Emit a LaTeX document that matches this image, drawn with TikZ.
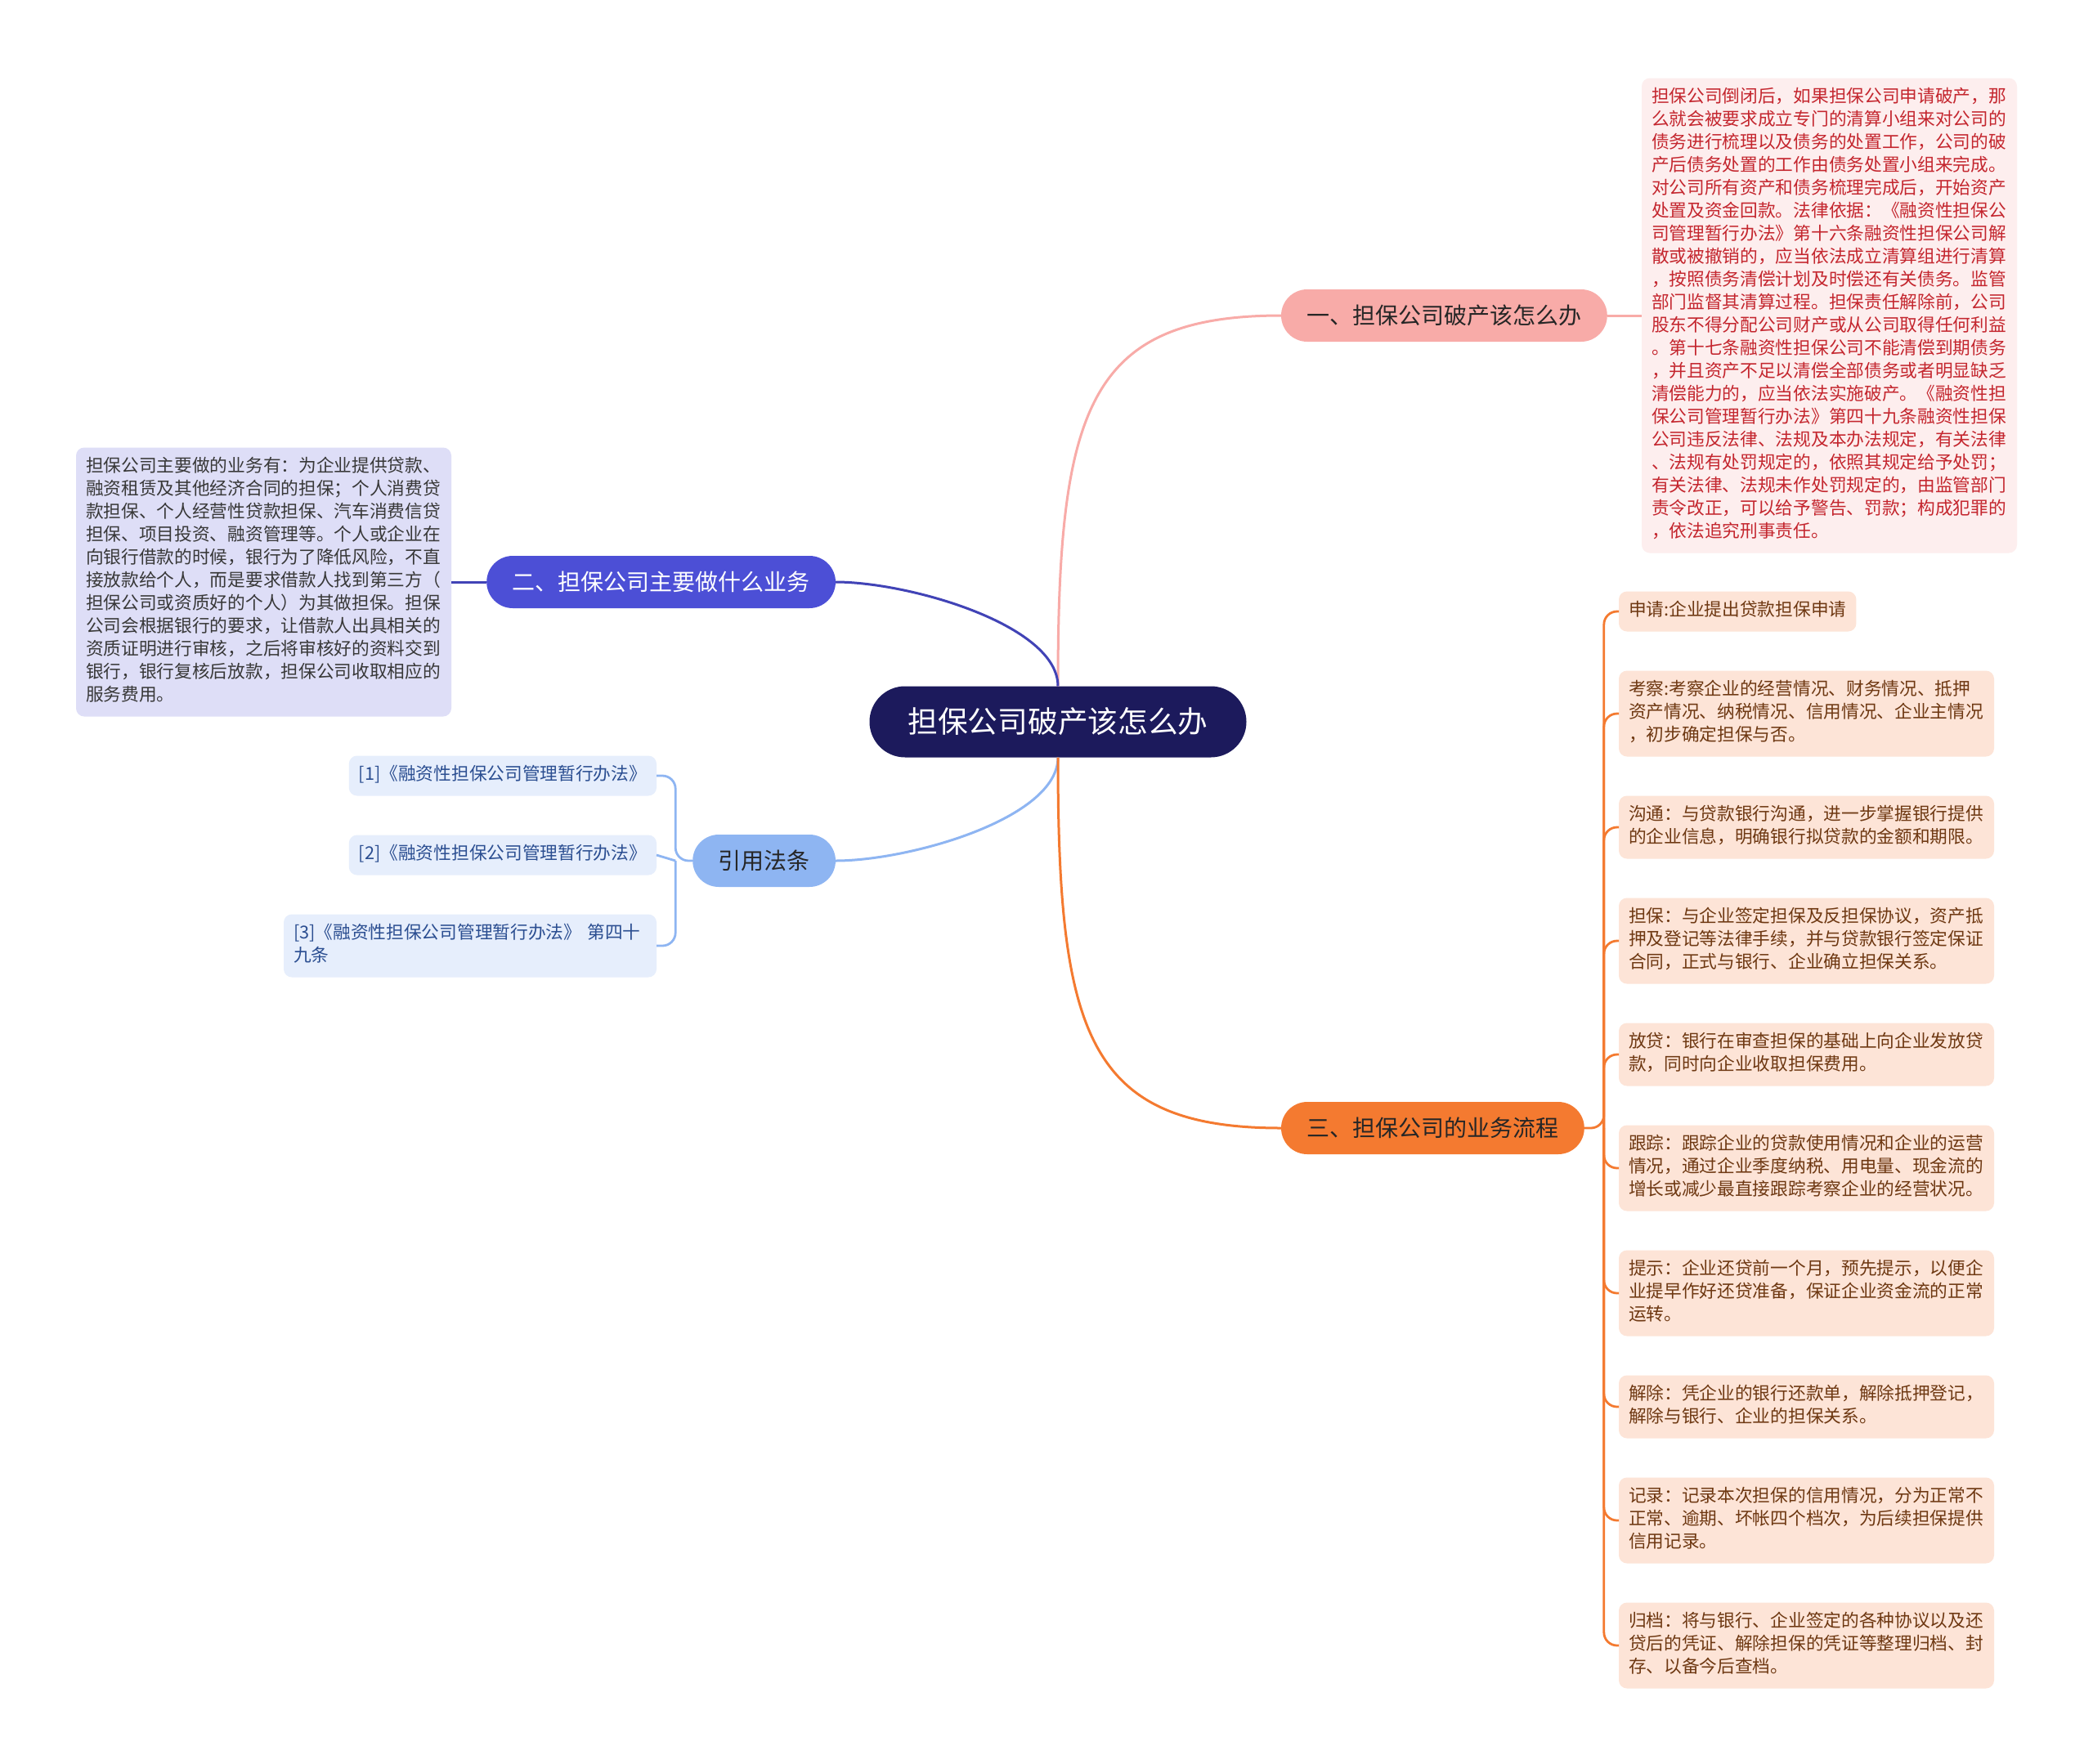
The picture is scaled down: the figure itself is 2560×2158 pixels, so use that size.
\documentclass[tikz,border=0pt]{standalone}
\usepackage{fontspec}
\setmainfont{Noto Sans CJK SC}
\usepackage{xcolor}
\usetikzlibrary{positioning}

\definecolor{rootbg}{RGB}{28,26,92}
\definecolor{pinkbg}{RGB}{248,171,168}
\definecolor{violetbg}{RGB}{76,79,214}
\definecolor{skybg}{RGB}{142,181,242}
\definecolor{orangebg}{RGB}{244,122,48}
\definecolor{redleaf}{RGB}{253,238,238}
\definecolor{redtext}{RGB}{196,38,46}
\definecolor{violetleaf}{RGB}{222,222,247}
\definecolor{skyleaf}{RGB}{230,238,252}
\definecolor{skytext}{RGB}{43,78,145}
\definecolor{orangeleaf}{RGB}{253,228,215}
\definecolor{orangetext}{RGB}{110,56,18}

\begin{document}
\begin{tikzpicture}[
  x=0.5pt, y=-0.5pt,
  every node/.style={inner sep=0pt, outer sep=0pt},
  root/.style={fill=rootbg, text=white, rounded corners=21.75pt, minimum height=43.5pt, inner xsep=23.5pt, font=\fontsize{18.35}{22}\selectfont},
  topic/.style={rounded corners=16pt, minimum height=32pt, inner xsep=15.7pt, font=\fontsize{14}{17}\selectfont},
  leaf/.style={rounded corners=5pt, inner xsep=6pt, inner ysep=5.25pt, align=left, font=\fontsize{10.85}{14}\selectfont, execute at begin node=\strut, execute at end node=\strut},
  wide/.style={text width=217.5pt},
  link/.style={line width=1.5pt},
  twig/.style={line width=1.4pt, rounded corners=8pt},
]
\fill[white] (0,0) rectangle (2560,2158);
\useasboundingbox (0,0) rectangle (2560,2158);

\node[root] (c) at (1294,883) {担保公司破产该怎么办};

\node[topic, fill=pinkbg, text=black!85, anchor=west] (b1) at (1567,386) {一、担保公司破产该怎么办};
\node[topic, fill=violetbg, text=white, anchor=east] (b2) at (1022,712) {二、担保公司主要做什么业务};
\node[topic, fill=skybg, text=black!85, anchor=east] (b3) at (1022,1053) {引用法条};
\node[topic, fill=orangebg, text=black!85, anchor=west] (b4) at (1567,1380) {三、担保公司的业务流程};

% 一
\node[leaf, wide, fill=redleaf, text=redtext, anchor=west] (r1) at (2008,386) {担保公司倒闭后，如果担保公司申请破产，那\\
么就会被要求成立专门的清算小组来对公司的\\
债务进行梳理以及债务的处置工作，公司的破\\
产后债务处置的工作由债务处置小组来完成。\\
对公司所有资产和债务梳理完成后，开始资产\\
处置及资金回款。法律依据：《融资性担保公\\
司管理暂行办法》第十六条融资性担保公司解\\
散或被撤销的，应当依法成立清算组进行清算\\
，按照债务清偿计划及时偿还有关债务。监管\\
部门监督其清算过程。担保责任解除前，公司\\
股东不得分配公司财产或从公司取得任何利益\\
。第十七条融资性担保公司不能清偿到期债务\\
，并且资产不足以清偿全部债务或者明显缺乏\\
清偿能力的，应当依法实施破产。《融资性担\\
保公司管理暂行办法》第四十九条融资性担保\\
公司违反法律、法规及本办法规定，有关法律\\
、法规有处罚规定的，依照其规定给予处罚；\\
有关法律、法规未作处罚规定的，由监管部门\\
责令改正，可以给予警告、罚款；构成犯罪的\\
，依法追究刑事责任。};

% 二
\node[leaf, wide, fill=violetleaf, text=black!78, anchor=east] (p1) at (552,712) {担保公司主要做的业务有：为企业提供贷款、\\
融资租赁及其他经济合同的担保；个人消费贷\\
款担保、个人经营性贷款担保、汽车消费信贷\\
担保、项目投资、融资管理等。个人或企业在\\
向银行借款的时候，银行为了降低风险，不直\\
接放款给个人，而是要求借款人找到第三方（\\
担保公司或资质好的个人）为其做担保。担保\\
公司会根据银行的要求，让借款人出具相关的\\
资质证明进行审核，之后将审核好的资料交到\\
银行，银行复核后放款，担保公司收取相应的\\
服务费用。};

% 引用法条
\node[leaf, fill=skyleaf, text=skytext, anchor=east] (q1) at (803,949) {[1]《融资性担保公司管理暂行办法》};
\node[leaf, fill=skyleaf, text=skytext, below=24pt of q1.south east, anchor=north east] (q2) {[2]《融资性担保公司管理暂行办法》};
\node[leaf, fill=skyleaf, text=skytext, text width=216pt, below=24pt of q2.south east, anchor=north east] (q3) {[3]《融资性担保公司管理暂行办法》 第四十\\九条};

% 三
\node[leaf, fill=orangeleaf, text=orangetext, anchor=west] (k1) at (1980,748) {申请:企业提出贷款担保申请};
\node[leaf, wide, fill=orangeleaf, text=orangetext, below=24pt of k1.south west, anchor=north west] (k2) {考察:考察企业的经营情况、财务情况、抵押\\资产情况、纳税情况、信用情况、企业主情况\\，初步确定担保与否。};
\node[leaf, wide, fill=orangeleaf, text=orangetext, below=24pt of k2.south west, anchor=north west] (k3) {沟通：与贷款银行沟通，进一步掌握银行提供\\的企业信息，明确银行拟贷款的金额和期限。};
\node[leaf, wide, fill=orangeleaf, text=orangetext, below=24pt of k3.south west, anchor=north west] (k4) {担保：与企业签定担保及反担保协议，资产抵\\押及登记等法律手续，并与贷款银行签定保证\\合同，正式与银行、企业确立担保关系。};
\node[leaf, wide, fill=orangeleaf, text=orangetext, below=24pt of k4.south west, anchor=north west] (k5) {放贷：银行在审查担保的基础上向企业发放贷\\款，同时向企业收取担保费用。};
\node[leaf, wide, fill=orangeleaf, text=orangetext, below=24pt of k5.south west, anchor=north west] (k6) {跟踪：跟踪企业的贷款使用情况和企业的运营\\情况，通过企业季度纳税、用电量、现金流的\\增长或减少最直接跟踪考察企业的经营状况。};
\node[leaf, wide, fill=orangeleaf, text=orangetext, below=24pt of k6.south west, anchor=north west] (k7) {提示：企业还贷前一个月，预先提示，以便企\\业提早作好还贷准备，保证企业资金流的正常\\运转。};
\node[leaf, wide, fill=orangeleaf, text=orangetext, below=24pt of k7.south west, anchor=north west] (k8) {解除：凭企业的银行还款单，解除抵押登记，\\解除与银行、企业的担保关系。};
\node[leaf, wide, fill=orangeleaf, text=orangetext, below=24pt of k8.south west, anchor=north west] (k9) {记录：记录本次担保的信用情况，分为正常不\\正常、逾期、坏帐四个档次，为后续担保提供\\信用记录。};
\node[leaf, wide, fill=orangeleaf, text=orangetext, below=24pt of k9.south west, anchor=north west] (k10) {归档：将与银行、企业签定的各种协议以及还\\贷后的凭证、解除担保的凭证等整理归档、封\\存、以备今后查档。};

\coordinate[left=10.5pt of b3.west] (fq);
\coordinate[right=12pt of b4.east] (fk);

% main branches
\draw[link, pinkbg] (c.north) .. controls +(0,-339) and +(-237,0) .. (b1.west);
\draw[link, violetbg!85!black] (c.north) .. controls +(0,-75) and +(90,0) .. (b2.east);
\draw[link, skybg] (c.south) .. controls +(0,75) and +(90,0) .. (b3.east);
\draw[link, orangebg] (c.south) .. controls +(0,339) and +(-237,0) .. (b4.west);

\draw[link, pinkbg] (b1.east) -- (r1.west);
\draw[link, violetbg!85!black] (b2.west) -- (p1.east);

\draw[twig, skybg] (b3.west) -- (fq) |- (q1.east); \draw[twig, skybg] (fq) -- (q2.east);
\draw[twig, skybg] (fq) |- (q3.east);

\draw[twig, orangebg] (b4.east) -- (fk) |- (k1.west); \draw[twig, orangebg] (fk) |- (k2.west);
\draw[twig, orangebg] (fk) |- (k3.west); \draw[twig, orangebg] (fk) |- (k4.west);
\draw[twig, orangebg] (fk) |- (k5.west); \draw[twig, orangebg] (fk) |- (k6.west);
\draw[twig, orangebg] (fk) |- (k7.west); \draw[twig, orangebg] (fk) |- (k8.west);
\draw[twig, orangebg] (fk) |- (k9.west); \draw[twig, orangebg] (fk) |- (k10.west);
\end{tikzpicture}
\end{document}
